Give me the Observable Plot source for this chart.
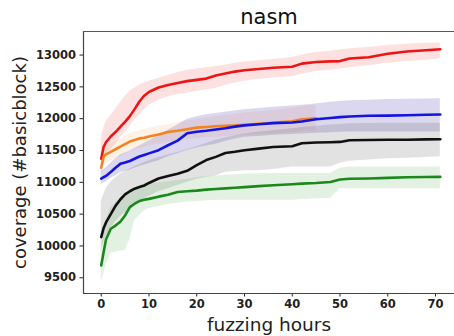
<!DOCTYPE html>
<html>
<head>
<meta charset="utf-8">
<script src="https://cdn.jsdelivr.net/npm/d3@7"></script>
<script src="https://cdn.jsdelivr.net/npm/@observablehq/plot@0.6"></script>
<style>
  html, body { margin: 0; padding: 0; background: #fff; }
  #chart svg { display: block; }
</style>
</head>
<body>
<div id="chart"></div>
<script>
const title = "nasm";
const xLabel = "fuzzing hours";
const yLabel = "coverage (#basicblock)";
const xTicks = [0, 10, 20, 30, 40, 50, 60, 70];
const yTicks = [9500, 10000, 10500, 11000, 11500, 12000, 12500, 13000];

const hours = [0, 0.5, 1, 2, 3, 4, 5, 6, 7, 8, 9, 10, 12, 14, 16, 18, 20, 22, 24, 26, 28, 30, 33, 36, 40, 42, 45, 48, 50, 52, 56, 60, 64, 68, 71];

const redMean = [11370, 11555, 11630, 11720, 11790, 11870, 11950, 12040, 12150, 12270, 12360, 12420, 12490, 12530, 12560, 12590, 12610, 12630, 12680, 12710, 12740, 12760, 12780, 12800, 12815, 12865, 12890, 12900, 12905, 12945, 12965, 13020, 13055, 13075, 13090];
const redHi = [11700, 11850, 11950, 12050, 12150, 12250, 12350, 12430, 12480, 12530, 12560, 12590, 12630, 12680, 12720, 12760, 12780, 12800, 12820, 12840, 12870, 12890, 12910, 12930, 12960, 13000, 13040, 13060, 13080, 13100, 13120, 13150, 13170, 13185, 13190];
const redLo = [11250, 11350, 11430, 11520, 11600, 11700, 11780, 11880, 11980, 12050, 12150, 12210, 12290, 12340, 12380, 12400, 12430, 12450, 12480, 12520, 12560, 12590, 12620, 12640, 12660, 12700, 12740, 12760, 12780, 12800, 12830, 12870, 12900, 12920, 12940];

const orangeMean = [11230, 11400, 11440, 11480, 11520, 11560, 11600, 11640, 11665, 11690, 11700, 11720, 11750, 11790, 11810, 11835, 11860, 11870, 11880, 11890, 11895, 11905, 11920, 11935, 11960, 11990, 12005];
const orangeHi = [11330, 11520, 11560, 11600, 11640, 11680, 11720, 11760, 11790, 11810, 11830, 11850, 11880, 11910, 11940, 11960, 11990, 12010, 12030, 12050, 12070, 12090, 12110, 12130, 12160, 12190, 12210];
const orangeLo = [11100, 11250, 11290, 11330, 11370, 11400, 11440, 11480, 11510, 11530, 11550, 11570, 11600, 11630, 11650, 11670, 11690, 11700, 11710, 11720, 11730, 11740, 11750, 11760, 11780, 11800, 11810];

const blueMean = [11058, 11080, 11100, 11162, 11230, 11290, 11310, 11335, 11370, 11405, 11430, 11455, 11505, 11583, 11655, 11770, 11795, 11810, 11830, 11850, 11875, 11895, 11912, 11930, 11940, 11955, 11990, 12010, 12025, 12035, 12045, 12048, 12055, 12062, 12066];
const blueHi = [11170, 11200, 11230, 11300, 11370, 11430, 11460, 11490, 11530, 11570, 11610, 11650, 11730, 11820, 11900, 11990, 12030, 12060, 12080, 12100, 12120, 12140, 12160, 12180, 12200, 12210, 12230, 12260, 12270, 12280, 12290, 12300, 12305, 12310, 12315];
const blueLo = [10960, 10990, 11010, 11060, 11100, 11150, 11170, 11190, 11220, 11250, 11270, 11290, 11340, 11400, 11450, 11500, 11540, 11570, 11600, 11640, 11680, 11710, 11720, 11740, 11750, 11760, 11770, 11780, 11785, 11790, 11790, 11790, 11790, 11790, 11790];

const blackMean = [10140, 10280, 10370, 10500, 10630, 10730, 10810, 10860, 10900, 10925, 10950, 10990, 11060, 11100, 11135, 11180, 11270, 11350, 11400, 11460, 11480, 11505, 11530, 11555, 11567, 11615, 11625, 11630, 11635, 11662, 11665, 11668, 11670, 11675, 11677];
const blackHi = [10700, 10800, 10900, 11000, 11070, 11130, 11170, 11210, 11250, 11280, 11310, 11340, 11390, 11430, 11470, 11510, 11560, 11610, 11660, 11700, 11730, 11760, 11790, 11810, 11840, 11860, 11880, 11900, 11910, 11920, 11925, 11930, 11930, 11930, 11930];
const blackLo = [9950, 10050, 10150, 10280, 10380, 10460, 10520, 10580, 10640, 10700, 10740, 10780, 10850, 10900, 10950, 11000, 11050, 11080, 11100, 11160, 11170, 11180, 11180, 11200, 11240, 11240, 11240, 11240, 11300, 11330, 11350, 11370, 11380, 11390, 11400];

const greenMean = [9693, 9900, 10100, 10270, 10320, 10380, 10480, 10610, 10664, 10705, 10725, 10740, 10775, 10805, 10848, 10860, 10870, 10885, 10895, 10905, 10915, 10925, 10940, 10953, 10970, 10980, 10990, 11005, 11045, 11055, 11060, 11070, 11080, 11084, 11085];
const greenHi = [9950, 10200, 10400, 10600, 10680, 10750, 10820, 10870, 10900, 10920, 10940, 10960, 10990, 11010, 11030, 11050, 11070, 11090, 11100, 11110, 11120, 11130, 11135, 11140, 11140, 11140, 11140, 11140, 11220, 11240, 11240, 11240, 11240, 11240, 11240];
const greenLo = [9430, 9550, 9700, 9880, 9900, 9920, 9930, 10100, 10400, 10480, 10550, 10590, 10620, 10650, 10670, 10690, 10700, 10710, 10715, 10720, 10720, 10720, 10720, 10720, 10720, 10730, 10740, 10750, 10900, 10900, 10900, 10900, 10900, 10900, 10900];

const series = [
  {name: "red", mean: redMean, hi: redHi, lo: redLo, line: "#ec1414", band: "#f04040", op: 0.16},
  {name: "orange", mean: orangeMean, hi: orangeHi, lo: orangeLo, line: "#f5821f", band: "#f7a050", op: 0.15},
  {name: "blue", mean: blueMean, hi: blueHi, lo: blueLo, line: "#1414e0", band: "#5a48b8", op: 0.22},
  {name: "black", mean: blackMean, hi: blackHi, lo: blackLo, line: "#111111", band: "#555555", op: 0.17},
  {name: "green", mean: greenMean, hi: greenHi, lo: greenLo, line: "#1a881a", band: "#3a9a3a", op: 0.14}
];

const rows = series.map(s => s.mean.map((m, i) => ({h: hours[i], mean: m, hi: s.hi[i], lo: s.lo[i]})));

const xDomain = [-3.71, 73.97];
const yDomain = [9253, 13370];

const marks = [];
series.forEach((s, k) => {
  marks.push(Plot.areaY(rows[k], {x: "h", y1: "lo", y2: "hi", fill: s.band, fillOpacity: s.op}));
});
series.forEach((s, k) => {
  marks.push(Plot.lineY(rows[k], {x: "h", y: "mean", stroke: s.line, strokeWidth: 2.6}));
});
marks.push(Plot.ruleX([xDomain[0]], {stroke: "#444", strokeWidth: 1.2}));
marks.push(Plot.ruleY([yDomain[0]], {stroke: "#444", strokeWidth: 1.2}));
marks.push(Plot.ruleY([yDomain[1]], {stroke: "#555", strokeWidth: 1.2}));
marks.push(Plot.text([title], {frameAnchor: "top", lineAnchor: "middle", dy: -14, fontSize: 21, fontWeight: "normal", fill: "#111"}));
marks.push(Plot.text([xLabel], {frameAnchor: "bottom", lineAnchor: "middle", dy: 32, fontSize: 18.5, fontWeight: "normal", fill: "#222"}));
marks.push(Plot.text([yLabel], {frameAnchor: "left", textAnchor: "middle", lineAnchor: "middle", dx: -63, rotate: -90, fontSize: 18, fontWeight: "normal", fill: "#222"}));

const chart = Plot.plot({
  width: 454,
  height: 336,
  marginLeft: 83,
  marginRight: 0,
  marginTop: 31,
  marginBottom: 43,
  style: {fontFamily: "DejaVu Sans", fontSize: "11.5px", fontWeight: "bold", color: "#222", background: "#fff"},
  x: {domain: xDomain, ticks: xTicks, tickSize: 3.5, tickPadding: 3, label: null, tickFormat: d => String(d)},
  y: {domain: yDomain, ticks: yTicks, tickSize: 3.5, tickPadding: 4, label: null, tickFormat: d => String(d)},
  marks
});
document.getElementById("chart").appendChild(chart);
</script>
</body>
</html>
